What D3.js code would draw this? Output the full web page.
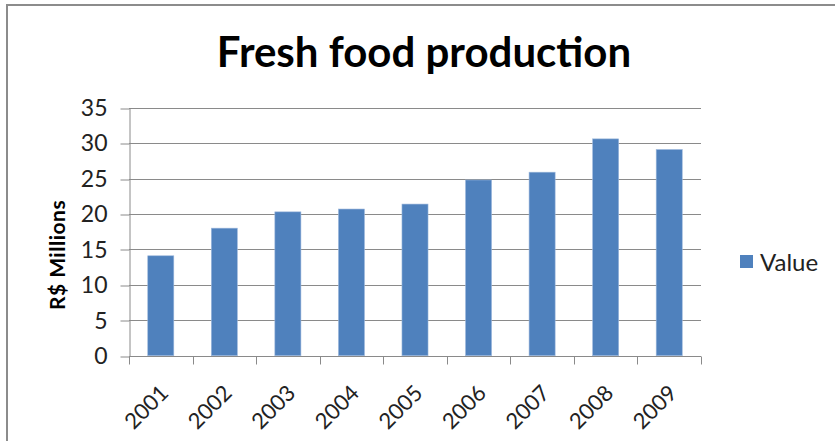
<!DOCTYPE html>
<html>
<head>
<meta charset="utf-8">
<script src="https://cdn.jsdelivr.net/npm/d3@7"></script>
<style>
  html, body { margin: 0; padding: 0; background: #fff; }
  svg { display: block; }
</style>
</head>
<body>
<script>
// Annual fresh food production, R$ millions
const years = ["2001", "2002", "2003", "2004", "2005", "2006", "2007", "2008", "2009"];
const values = [14.1, 18.0, 20.3, 20.7, 21.4, 24.8, 25.9, 30.6, 29.1];
const yTicks = [0, 5, 10, 15, 20, 25, 30, 35];
const seriesName = "Value";
const chartTitle = "Fresh food production";
const yAxisTitle = "R$ Millions";

const W = 835, H = 441;
const margin = { left: 129, right: 134, top: 107.7, bottom: 85.3 };
const barColor = "#4f81bd";
const gridColor = "#8a8a8a";
const font = "Lato, 'Open Sans', sans-serif";

const svg = d3.select("body").append("svg")
  .attr("width", W).attr("height", H);

// outer chart frame
svg.append("path")
  .attr("d", `M7,${H + 5} V5 H${W + 5}`)
  .attr("fill", "none")
  .attr("stroke", "#8c8c8c")
  .attr("stroke-width", 2);

const x = d3.scaleBand()
  .domain(years)
  .range([margin.left, W - margin.right])
  .paddingInner(0.59)
  .paddingOuter(0.295);

const y = d3.scaleLinear()
  .domain([0, 35])
  .range([H - margin.bottom, margin.top]);

// horizontal gridlines
svg.append("g")
  .selectAll("line")
  .data(yTicks.filter(d => d > 0))
  .join("line")
  .attr("x1", margin.left)
  .attr("x2", W - margin.right)
  .attr("y1", d => Math.round(y(d)) + 0.5)
  .attr("y2", d => Math.round(y(d)) + 0.5)
  .attr("stroke", gridColor)
  .attr("stroke-width", 1);

// bars
svg.append("g")
  .selectAll("rect")
  .data(years.map((yr, i) => ({ yr, v: values[i] })))
  .join("rect")
  .attr("x", d => x(d.yr))
  .attr("width", x.bandwidth())
  .attr("y", d => y(d.v))
  .attr("height", d => y(0) - y(d.v))
  .attr("fill", barColor)
  .attr("stroke", "#9db8dc")
  .attr("stroke-width", 0.6);

// y axis
const yAxis = svg.append("g")
  .attr("transform", `translate(${margin.left + 0.5},0)`)
  .call(d3.axisLeft(y).tickValues(yTicks).tickSize(9).tickPadding(13).tickSizeOuter(0));
yAxis.select(".domain").attr("stroke", gridColor);
yAxis.selectAll(".tick line").attr("stroke", gridColor)
  .attr("transform", d => `translate(0,${Math.round(y(d)) + 0.5 - y(d)})`);
yAxis.selectAll(".tick text")
  .attr("font-family", font)
  .attr("font-size", 23)
  .attr("dy", "0.34em")
  .attr("fill", "#222");

// x axis
const xStep = x.step();
const xAxis = svg.append("g")
  .attr("transform", `translate(0,${Math.round(y(0)) + 0.5})`);
xAxis.append("line")
  .attr("x1", margin.left).attr("x2", W - margin.right)
  .attr("stroke", gridColor);
xAxis.selectAll(".xtick")
  .data(d3.range(years.length + 1))
  .join("line")
  .attr("x1", i => Math.round(margin.left + i * xStep) + 0.5)
  .attr("x2", i => Math.round(margin.left + i * xStep) + 0.5)
  .attr("y1", 0).attr("y2", 8)
  .attr("stroke", gridColor);
xAxis.selectAll(".xlabel")
  .data(years)
  .join("text")
  .attr("transform", d => `translate(${x(d) + x.bandwidth() / 2 + 9},${38}) rotate(-45)`)
  .attr("text-anchor", "end")
  .attr("font-family", font)
  .attr("font-size", 22)
  .attr("fill", "#222")
  .text(d => d);

// title
svg.append("text")
  .attr("x", 424)
  .attr("y", 67)
  .attr("text-anchor", "middle")
  .attr("font-family", font)
  .attr("font-weight", "bold")
  .attr("font-size", 42)
  .attr("fill", "#000")
  .text(chartTitle);

// y axis title
svg.append("text")
  .attr("transform", `translate(65,255) rotate(-90)`)
  .attr("text-anchor", "middle")
  .attr("font-family", font)
  .attr("font-weight", "bold")
  .attr("font-size", 21)
  .attr("letter-spacing", 0.5)
  .attr("fill", "#000")
  .text(yAxisTitle);

// legend
const legend = svg.append("g").attr("transform", "translate(740,255)");
legend.append("rect")
  .attr("width", 13).attr("height", 13)
  .attr("fill", barColor);
legend.append("text")
  .attr("x", 20).attr("y", 7)
  .attr("dy", "0.36em")
  .attr("font-family", font)
  .attr("font-size", 24)
  .attr("fill", "#222")
  .text(seriesName);
</script>
</body>
</html>
